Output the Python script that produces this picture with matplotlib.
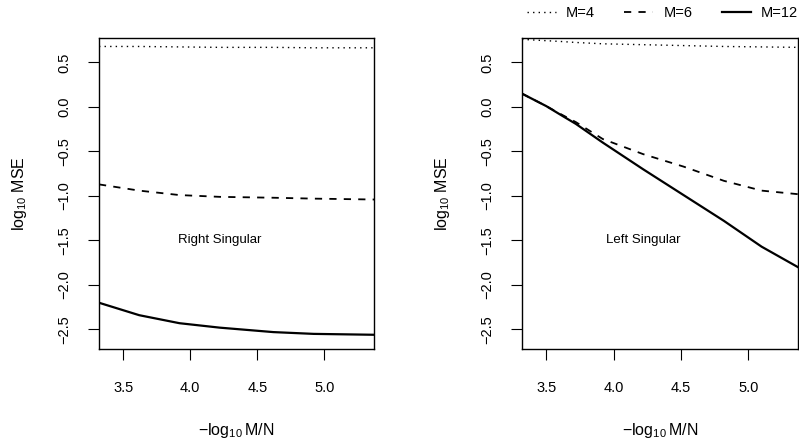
import matplotlib
matplotlib.use("Agg")
import matplotlib.pyplot as plt

plt.rcParams['font.family'] = ['Liberation Sans', 'DejaVu Sans']
plt.rcParams['mathtext.fontset'] = 'custom'
plt.rcParams['mathtext.rm'] = 'Liberation Sans'

# ------------------ DATA ------------------
# right singular panel
x_right = [3.32, 3.62, 3.92, 4.22, 4.62, 4.92, 5.37]
right_m4 = [0.68, 0.68, 0.675, 0.67, 0.67, 0.665, 0.665]
right_m6 = [-0.87, -0.94, -0.99, -1.01, -1.02, -1.03, -1.04]
right_m12 = [-2.20, -2.34, -2.43, -2.48, -2.53, -2.55, -2.56]

# left singular panel
x_left = [3.32, 3.5, 3.62, 3.72, 3.92, 4.22, 4.52, 4.82, 5.1, 5.37]
left_m4 = [0.76, 0.745, 0.735, 0.725, 0.71, 0.70, 0.69, 0.68, 0.675, 0.67]
left_m6 = [0.15, 0.01, -0.09, -0.17, -0.36, -0.53, -0.67, -0.83, -0.94, -0.98]
left_m12 = [0.15, 0.01, -0.10, -0.19, -0.40, -0.70, -0.99, -1.28, -1.57, -1.80]

xticks = [3.5, 4.0, 4.5, 5.0]
yticks = [0.5, 0.0, -0.5, -1.0, -1.5, -2.0, -2.5]
series_labels = ["M=4", "M=6", "M=12"]

fig = plt.figure(figsize=(7.99, 4.4), dpi=100)
ax1 = fig.add_axes([0.1239, 0.2068, 0.3442, 0.7068])
ax2 = fig.add_axes([0.6533, 0.2068, 0.3454, 0.7068])


def draw(ax, x, m4, m6, m12, label):
    l4, = ax.plot(x, m4, color="black", lw=1.0, linestyle=(0, (1, 3)))
    l6, = ax.plot(x, m6, color="black", lw=1.3, linestyle=(0, (4, 4)))
    l12, = ax.plot(x, m12, color="black", lw=1.6)
    ax.set_xlim(3.32, 5.37)
    ax.set_ylim(-2.72, 0.775)
    ax.set_xticks(xticks)
    ax.set_xticklabels([f"{t:.1f}" for t in xticks])
    ax.set_yticks(yticks)
    ax.set_yticklabels([f"{t:.1f}".replace("-", "\u2212") for t in yticks],
                       rotation=90, va="center")
    ax.tick_params(direction="out", length=8, width=0.8, labelsize=10.5,
                   colors="black", pad=12)
    ax.tick_params(axis="x", pad=15)
    for s in ax.spines.values():
        s.set_linewidth(1.0)
    ax.set_ylabel(r"$\mathregular{log_{10}}$ MSE", fontsize=11.5, labelpad=20)
    ax.set_xlabel(r"$-\mathregular{log_{10}\,M/N}$", fontsize=11.5, labelpad=19)
    ax.text(4.22, -1.5, label, fontsize=9.5, ha="center", va="center")
    return l4, l6, l12


draw(ax1, x_right, right_m4, right_m6, right_m12, "Right Singular")
handles = draw(ax2, x_left, left_m4, left_m6, left_m12, "Left Singular")

fig.legend(handles, series_labels, loc="center right", ncol=3, frameon=False,
           fontsize=10.5, bbox_to_anchor=(0.999, 0.970), borderpad=0,
           borderaxespad=0, handlelength=2.0, columnspacing=2.0,
           handletextpad=0.7)

fig.savefig("out.png", dpi=100)
